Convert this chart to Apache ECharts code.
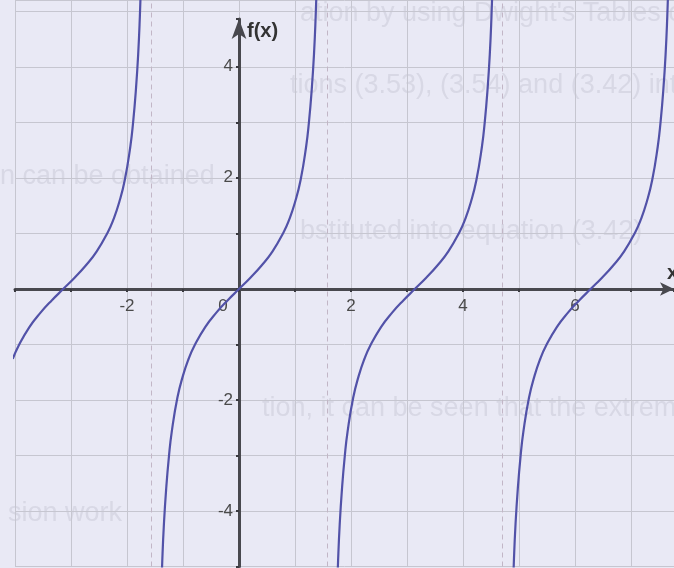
<!DOCTYPE html>
<html>
<head>
<meta charset="utf-8">
<script src="https://cdn.jsdelivr.net/npm/echarts@6/dist/echarts.min.js"></script>
<style>
  html, body { margin: 0; padding: 0; background: #e9e9f5; }
  #chart { width: 674px; height: 568px; }
</style>
</head>
<body>
<div id="chart"></div>
<script>
// branches of f(x) (each branch runs between two asymptotes)
var branch1X = [-4.04, -3.94, -3.74, -3.54, -3.34, -3.14, -2.94, -2.74, -2.54, -2.34, -2.24, -2.14, -2.04, -1.94, -1.89, -1.84, -1.8, -1.77, -1.74];
var branch1Y = [-1.26, -1.03, -0.68, -0.42, -0.2, 0, 0.2, 0.42, 0.68, 1.03, 1.26, 1.56, 1.96, 2.57, 3.01, 3.6, 4.23, 4.91, 5.8];

var branch2X = [-1.4, -1.37, -1.34, -1.3, -1.25, -1.2, -1.1, -1.0, -0.9, -0.8, -0.6, -0.4, -0.2, 0, 0.2, 0.4, 0.6, 0.8, 0.9, 1.0, 1.1, 1.2, 1.25, 1.3, 1.34, 1.37, 1.4];
var branch2Y = [-5.8, -4.91, -4.23, -3.6, -3.01, -2.57, -1.96, -1.56, -1.26, -1.03, -0.68, -0.42, -0.2, 0, 0.2, 0.42, 0.68, 1.03, 1.26, 1.56, 1.96, 2.57, 3.01, 3.6, 4.23, 4.91, 5.8];

var branch3X = [1.74, 1.77, 1.8, 1.84, 1.89, 1.94, 2.04, 2.14, 2.24, 2.34, 2.54, 2.74, 2.94, 3.14, 3.34, 3.54, 3.74, 3.94, 4.04, 4.14, 4.24, 4.34, 4.39, 4.44, 4.48, 4.51, 4.54];
var branch3Y = [-5.8, -4.91, -4.23, -3.6, -3.01, -2.57, -1.96, -1.56, -1.26, -1.03, -0.68, -0.42, -0.2, 0, 0.2, 0.42, 0.68, 1.03, 1.26, 1.56, 1.96, 2.57, 3.01, 3.6, 4.23, 4.91, 5.8];

var branch4X = [4.88, 4.91, 4.94, 4.98, 5.03, 5.08, 5.18, 5.28, 5.38, 5.48, 5.68, 5.88, 6.08, 6.28, 6.48, 6.68, 6.88, 7.08, 7.18, 7.28, 7.38, 7.48, 7.53, 7.58, 7.62, 7.65, 7.68];
var branch4Y = [-5.8, -4.91, -4.23, -3.6, -3.01, -2.57, -1.96, -1.56, -1.26, -1.03, -0.68, -0.42, -0.2, 0, 0.2, 0.42, 0.68, 1.03, 1.26, 1.56, 1.96, 2.57, 3.01, 3.6, 4.23, 4.91, 5.8];

var asymptotes = [-1.57, 1.57, 4.71];
var xTickLabels = [-2, 0, 2, 4, 6];
var yTickLabels = [-4, -2, 2, 4];

// faint text showing through from the scanned page
var ghostText = [
  ["ation by using Dwight's Tables of Integrals (14", 300, 0],
  ["tions (3.53), (3.54) and (3.42) into equation (3", 290, 72],
  ["n can be obtained", 0, 163],
  ["bstituted into equation (3.42)", 300, 218],
  ["tion, it can be seen that the extreme values of th", 262, 395],
  ["sion work", 8, 500]
];

function pairs(xs, ys) {
  return xs.map(function (x, i) { return [x, ys[i]]; });
}

var chart = echarts.init(document.getElementById('chart'));

var axisColor = '#48484e';
var labelFont = { color: '#4a4a4a', fontSize: 17, fontFamily: 'Liberation Sans' };
var nameFont = { color: '#333', fontSize: 20, fontWeight: 'bold', fontFamily: 'Liberation Sans' };
var hidden = { show: false };

var curveStyle = { color: '#5252a8', width: 2.2 };
var branches = [[branch1X, branch1Y], [branch2X, branch2Y], [branch3X, branch3Y], [branch4X, branch4Y]];

var series = branches.map(function (b, i) {
  var s = {
    type: 'line',
    xAxisIndex: 0,
    yAxisIndex: 0,
    data: pairs(b[0], b[1]),
    showSymbol: false,
    smooth: true,
    lineStyle: curveStyle,
    z: 5,
    silent: true
  };
  if (i === 0) {
    s.markLine = {
      silent: true,
      symbol: 'none',
      label: { show: false },
      lineStyle: { type: [5, 4], color: '#c2b6c6', width: 1 },
      data: asymptotes.map(function (a) { return { xAxis: a }; })
    };
  }
  return s;
});

var option = {
  backgroundColor: '#e9e9f5',
  animation: false,
  graphic: ghostText.map(function (t) {
    return {
      type: 'text', left: t[1], top: t[2], silent: true, z: -10,
      style: { text: t[0], font: '27px "Liberation Sans", Arial', fill: '#d8d8e5' }
    };
  }),
  grid: [
    // plot area: gridlines and curves
    { left: 15, right: 0, top: 0, bottom: 1.5, containLabel: false, outerBoundsMode: 'none' },
    // grid whose bottom edge is y = 0: carries the x axis
    { left: 15, right: 0, top: 0, bottom: 279, containLabel: false, outerBoundsMode: 'none' },
    // grid whose left edge is x = 0: carries the y axis
    { left: 239, right: 0, top: 19, bottom: 1.5, containLabel: false, outerBoundsMode: 'none' }
  ],
  xAxis: [
    {
      gridIndex: 0, type: 'value', min: -4, max: 7.77, interval: 1,
      axisLine: hidden, axisTick: hidden, axisLabel: hidden,
      splitLine: { show: true, lineStyle: { color: '#c6c6d0', width: 1 } }
    },
    {
      gridIndex: 1, type: 'value', min: -4, max: 7.77, interval: 1, position: 'bottom',
      name: 'x', nameLocation: 'end', nameGap: -7,
      nameTextStyle: Object.assign({ align: 'left', verticalAlign: 'bottom', padding: [0, 0, 6, 0] }, nameFont),
      axisLine: { show: true, onZero: false, symbol: ['none', 'arrow'], symbolSize: [10, 14], lineStyle: { color: axisColor, width: 3 } },
      axisTick: { show: true, length: 3, lineStyle: { color: '#3a3a40', width: 2 } },
      splitLine: hidden,
      axisLabel: Object.assign({
        margin: 9,
        formatter: function (v) {
          if (xTickLabels.indexOf(v) < 0) return '';
          return v === 0 ? '{z|0}' : String(v);
        },
        rich: { z: { fontSize: 17, color: '#4a4a4a', padding: [0, 32, 0, 0] } }
      }, labelFont)
    },
    {
      gridIndex: 2, type: 'value', min: 0, max: 1,
      axisLine: hidden, axisTick: hidden, axisLabel: hidden, splitLine: hidden
    }
  ],
  yAxis: [
    {
      gridIndex: 0, type: 'value', min: -5, max: 5.21, interval: 1,
      axisLine: hidden, axisTick: hidden, axisLabel: hidden,
      splitLine: { show: true, lineStyle: { color: '#c6c6d0', width: 1 } }
    },
    {
      gridIndex: 1, type: 'value', min: 0, max: 1,
      axisLine: hidden, axisTick: hidden, axisLabel: hidden, splitLine: hidden
    },
    {
      gridIndex: 2, type: 'value', min: -5, max: 4.86, interval: 1, position: 'left',
      name: 'f(x)', nameLocation: 'end', nameGap: -12,
      nameTextStyle: Object.assign({ align: 'left', verticalAlign: 'middle', padding: [0, 0, 0, 8] }, nameFont),
      axisLine: { show: true, onZero: false, symbol: ['none', 'arrow'], symbolSize: [11, 20], lineStyle: { color: axisColor, width: 3 } },
      axisTick: { show: true, length: 3, lineStyle: { color: '#3a3a40', width: 2 } },
      splitLine: hidden,
      axisLabel: Object.assign({
        margin: 6,
        formatter: function (v) { return yTickLabels.indexOf(v) < 0 ? '' : String(v); }
      }, labelFont)
    }
  ],
  series: series
};

chart.setOption(option);
</script>
</body>
</html>
